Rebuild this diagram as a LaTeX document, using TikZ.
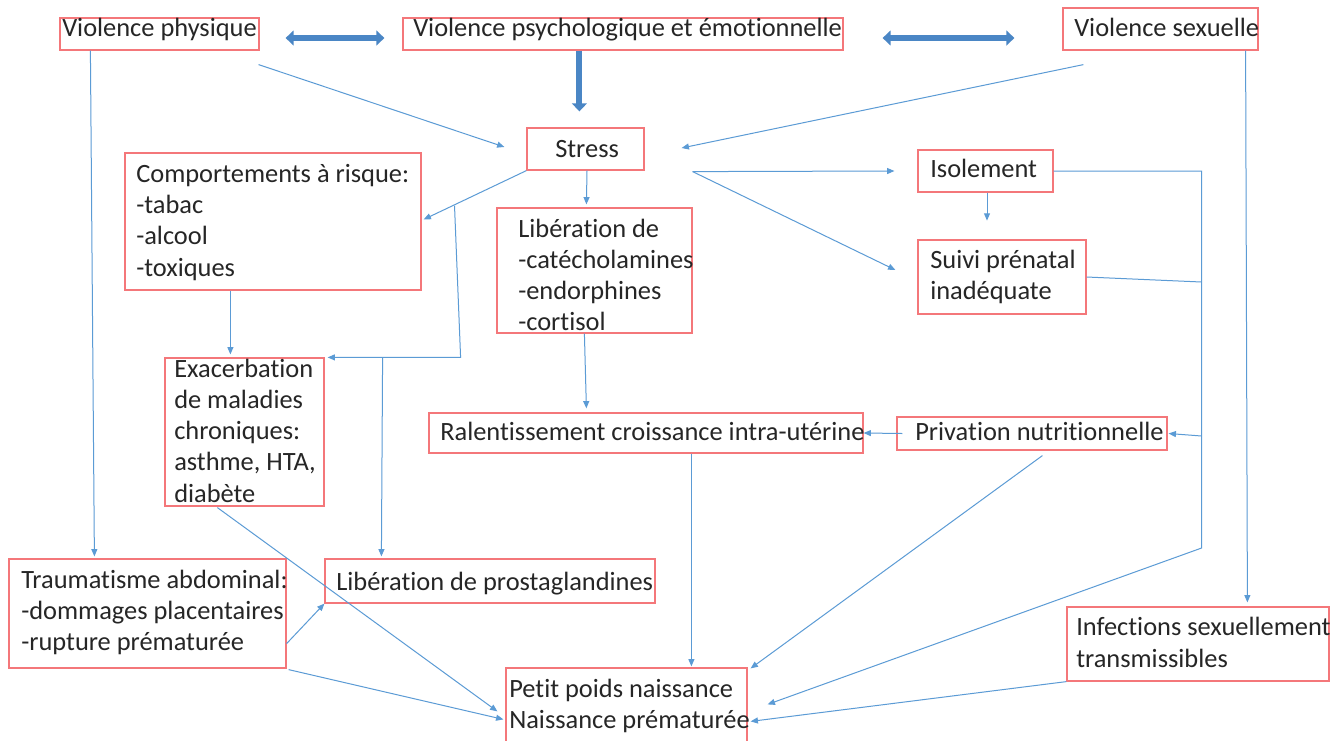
\documentclass[tikz,border=0pt]{standalone}
\usepackage{fontspec}
\setmainfont[Ligatures={NoCommon,NoDiscretionary}]{Carlito}
\usetikzlibrary{arrows.meta,calc,fit}
\definecolor{boxred}{HTML}{F4777A}
\definecolor{thinblue}{HTML}{5B9BD5}
\definecolor{thickblue}{HTML}{4A86C5}
\definecolor{ink}{HTML}{262626}
\begin{document}
\begin{tikzpicture}[x=0.75pt,y=-0.75pt,
  box/.style={draw=boxred,line width=0.9pt,inner sep=0pt},
  txt/.style={anchor=base west,inner sep=0pt,text=ink,font=\fontsize{19.8}{24}\selectfont},
  arr/.style={draw=thinblue,line width=0.75pt,-{Triangle[length=5.5pt,width=4.5pt]}},
  ln/.style={draw=thinblue,line width=0.75pt},
  fat/.style={draw=thickblue,line width=4.5pt,-{Triangle[length=6pt,width=11pt]}},
  fatboth/.style={draw=thickblue,line width=4.5pt,{Triangle[length=6pt,width=11pt]}-{Triangle[length=6pt,width=11pt]}}]
\fill[white] (0,0) rectangle (1342,740);
\clip (0,0) rectangle (1342,740);

% boxes
\node[box,fit={(60,18) (259,50)}] (vp) {};
\node[box,fit={(403,18) (843,50)}] (vpe) {};
\node[box,fit={(1063,8) (1258,50)}] (vs) {};
\node[box,fit={(527,128) (644,170)}] (st) {};
\node[box,fit={(125,153) (421,290)}] (cr) {};
\node[box,fit={(497,208) (692,333)}] (lib) {};
\node[box,fit={(918,150) (1053,192)}] (iso) {};
\node[box,fit={(918,240) (1086,314)}] (sui) {};
\node[box,fit={(165,358) (324,506)}] (exa) {};
\node[box,fit={(429,413) (863,453)}] (ral) {};
\node[box,fit={(897,417) (1167,450)}] (pri) {};
\node[box,fit={(9,559) (286,668)}] (tra) {};
\node[box,fit={(325,559) (655,603)}] (pro) {};
\node[box,fit={(1067,607) (1329,681)}] (inf) {};
\node[box,fit={(506,668) (747,760)}] (pp) {};

% texts
\node[txt] (vp-t) at (62,36) {Violence physique};
\node[txt] (vpe-t) at (413,36) {Violence psychologique et émotionnelle};
\node[txt] (vs-t) at (1074,36) {Violence sexuelle};
\node[txt] (st-t) at (555,157) {Stress};
\node[txt] (cr-t1) at (136,182) {Comportements à risque:};
\node[txt] (cr-t2) at (136,213) {-tabac};
\node[txt] (cr-t3) at (136,244) {-alcool};
\node[txt] (cr-t4) at (136,276) {-toxiques};
\node[txt] (lib-t1) at (518,237) {Libération de};
\node[txt] (lib-t2) at (518,268) {-catécholamines};
\node[txt] (lib-t3) at (518,299) {-endorphines};
\node[txt] (lib-t4) at (518,330) {-cortisol};
\node[txt] (iso-t) at (930,177) {Isolement};
\node[txt] (sui-t1) at (930,268) {Suivi prénatal};
\node[txt] (sui-t2) at (930,299) {inadéquate};
\node[txt] (exa-t1) at (174,377) {Exacerbation};
\node[txt] (exa-t2) at (174,408) {de maladies};
\node[txt] (exa-t3) at (174,439) {chroniques:};
\node[txt] (exa-t4) at (174,470) {asthme, HTA,};
\node[txt] (exa-t5) at (174,502) {diabète};
\node[txt] (ral-t) at (440,440) {Ralentissement croissance intra-utérine};
\node[txt] (pri-t) at (915,440) {Privation nutritionnelle};
\node[txt] (tra-t1) at (21,588) {Traumatisme abdominal:};
\node[txt] (tra-t2) at (21,619) {-dommages placentaires};
\node[txt] (tra-t3) at (21,650) {-rupture prématurée};
\node[txt] (pro-t) at (336,590) {Libération de prostaglandines};
\node[txt] (inf-t1) at (1076,635) {Infections sexuellement};
\node[txt] (inf-t2) at (1076,667) {transmissibles};
\node[txt] (pp-t1) at (509,697) {Petit poids naissance};
\node[txt] (pp-t2) at (509,728) {Naissance prématurée};

% thick arrows
\draw[fatboth] ($(vp.east)+(26,4)$) -- ($(vpe.west)+(-18,4)$);
\draw[fatboth] ($(vpe.east)+(39,4)$) -- ($(vs.west)+(-48,9)$);
\draw[fat] ($(vpe.south west)+(177,0)$) -- ($(st.north west)+(53,-16)$);

% helper coordinates
\coordinate (br) at ($(st.south west)!0.686!(cr.east)$);
\coordinate (sr) at ($(st.south east)+(48,1)$);
\coordinate (rv) at ($(iso.east)+(148,0)$);

% thin connectors
\draw[arr] ($(vp.south east)+(-1,14)$) -- ($(st.west)+(-22,-2)$);
\draw[arr] ($(vs.south west)+(21,14)$) -- ($(st.east)+(37,-1)$);
\draw[arr] (st.south west) -- ($(cr.east)+(2,-2)$);
\draw[arr] (br) -- ($(exa.north east)+(136,0)$) -- ($(exa.north east)+(3,0)$);
\draw[arr] ($(exa.north east)+(58,0)$) -- ($(pro.north west)+(57,-2)$);
\draw[arr] ($(st.south)+(1.5,0)$) -- ($(lib.north west)+(90,-3)$);
\draw[arr] (sr) -- ($(iso.west)+(-23,0)$);
\draw[arr] (sr) -- ($(sui.west)+(-22,-7)$);
\draw[arr] ($(iso.south)+(1.5,0)$) -- ($(iso.south)+(1.5,28)$);
\draw[arr] (iso.east) -- (rv) -- ($(rv)+(0,377)$) -- ($(pp.north east)+(20,37)$);
\draw[ln] (sui.east) -- ($(rv)+(0,111)$);
\draw[arr] ($(rv)+(0,265)$) -- ($(pri.east)+(1,0)$);
\draw[arr] ($(pri.west)+(6,0)$) -- (ral.east);
\draw[arr] ($(lib.south west)+(88,0)$) -- ($(ral.north west)+(158,-4)$);
\draw[arr] ($(cr.south west)+(106,0)$) -- ($(exa.north west)+(66,-3)$);
\draw[arr] ($(vp.south west)+(31,0)$) -- ($(tra.north west)+(86,-2)$);
\draw[arr] ($(vs.south east)+(-13,0)$) -- ($(inf.north west)+(181,-4)$);
\draw[arr] ($(ral.south west)+(263,0)$) -- ($(pp.north west)+(186,-1)$);
\draw[arr] ($(pri.south west)+(146,5)$) -- ($(pp.north east)+(3,1)$);
\draw[arr] (inf.south west) -- ($(pp.north east)+(3,54)$);
\draw[arr] ($(exa.south west)+(53,1)$) -- ($(pp.north west)+(-8,44)$);
\draw[arr] ($(tra.south east)+(0,-25)$) -- (pro.south west);
\draw[arr] ($(tra.south east)+(2,1)$) -- ($(pp.north west)+(-2,52)$);
\end{tikzpicture}
\end{document}
